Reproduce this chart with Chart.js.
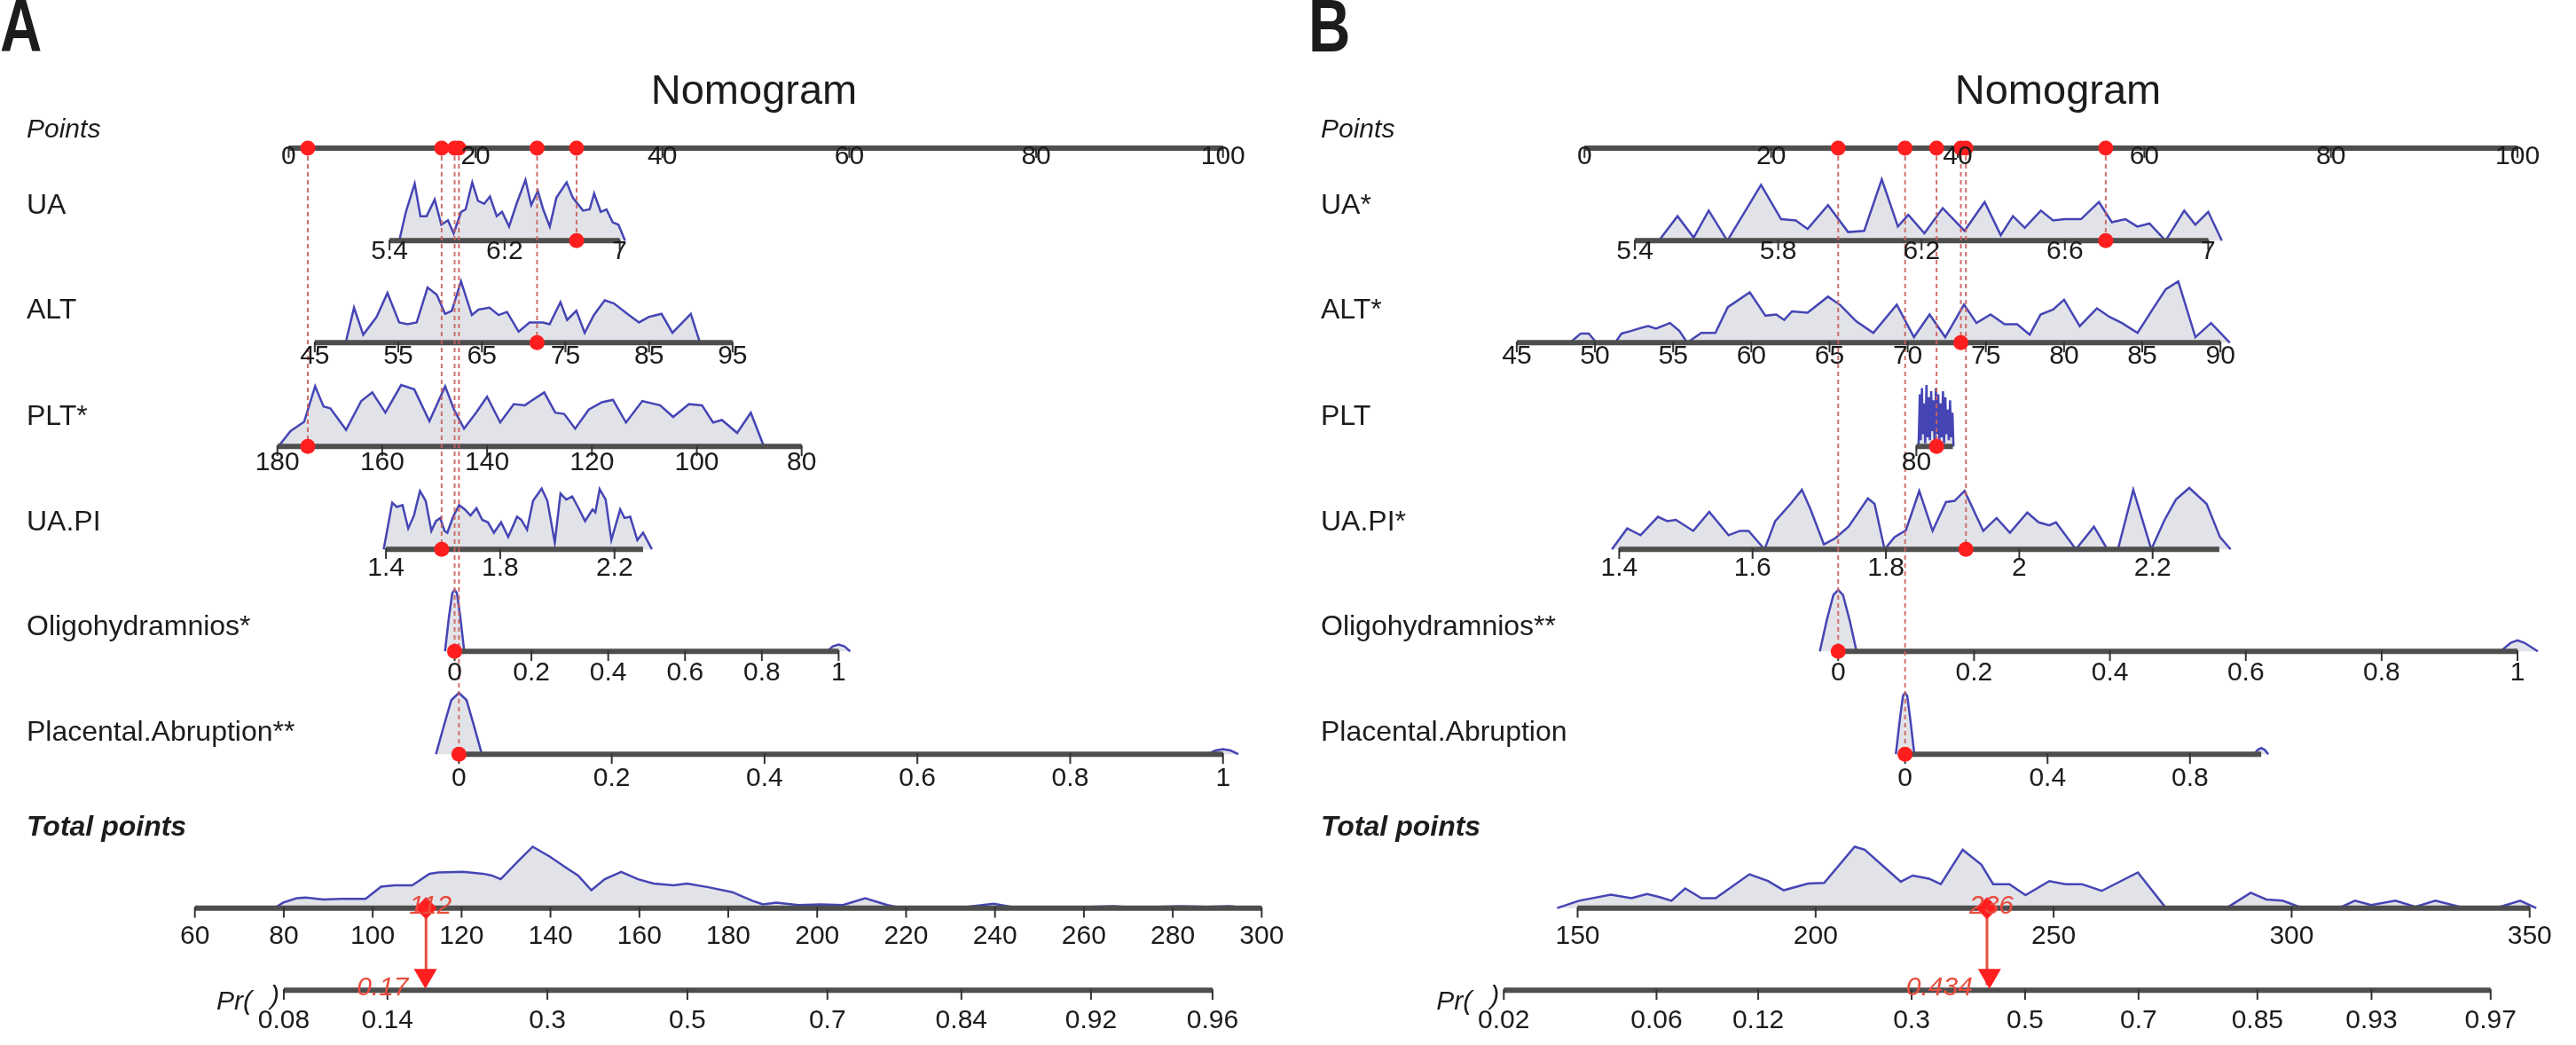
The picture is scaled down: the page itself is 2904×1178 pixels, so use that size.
<!DOCTYPE html>
<html><head><meta charset="utf-8">
<script src="https://cdn.jsdelivr.net/npm/chart.js@4.4.0/dist/chart.umd.min.js"></script>
<style>
html,body{margin:0;padding:0;background:#fff;width:2904px;height:1178px;overflow:hidden}
#wrap{position:relative;width:2904px;height:1178px;background:#fff}
canvas{position:absolute;top:0}
#cA{left:0}#cB{left:1452px}
</style></head><body>
<div id="wrap"><canvas id="cA" width="1452" height="1178"></canvas><canvas id="cB" width="1452" height="1178"></canvas></div>
<script>
// ================= DATA: Panel A =================
const A_letter = 'A';
const A_title = 'Nomogram';
const A_labels = ['UA', 'ALT', 'PLT*', 'UA.PI', 'Oligohydramnios*', 'Placental.Abruption**'];
const A_pointsTicks = [0, 20, 40, 60, 80, 100];
// value -> points anchors
const A_UA_map = [[5.4, 10.79], [7, 35.43]];
const A_ALT_map = [[45, 2.79], [95, 47.51]];
const A_PLT_map = [[180, -1.21], [80, 54.9]];
const A_UAPI_map = [[1.4, 10.41], [2.2, 34.87]];
const A_OLIGO_map = [[0, 17.76], [1, 58.86]];
const A_PLAC_map = [[0, 18.22], [1, 100.0]];
const A_TOTAL_map = [[60, -10.04], [300, 104.14]];
const A_UA_range = [5.4, 7], A_ALT_range = [45, 95], A_PLT_range = [180, 80], A_UAPI_range = [1.4, 2.3];
const A_OLIGO_range = [0, 1], A_PLAC_range = [0, 1], A_TOTAL_range = [60, 300], A_PR_range = [0.08, 0.96];
const A_UA_ticks = [5.4, 6.2, 7];
const A_ALT_ticks = [45, 55, 65, 75, 85, 95];
const A_PLT_ticks = [180, 160, 140, 120, 100, 80];
const A_UAPI_ticks = [1.4, 1.8, 2.2];
const A_OLIGO_ticks = [0, 0.2, 0.4, 0.6, 0.8, 1];
const A_PLAC_ticks = [0, 0.2, 0.4, 0.6, 0.8, 1];
const A_TOTAL_ticks = [60, 80, 100, 120, 140, 160, 180, 200, 220, 240, 260, 280, 300];
const A_PR_ticks = [0.08, 0.14, 0.3, 0.5, 0.7, 0.84, 0.92, 0.96];
const A_PR_model = [0.0269, 170.8]; // logit slope per total point, total at Pr=0.5
const A_patient = [6.70, 71.6, 174.2, 1.595, 0, 0];
const A_totalValue = 112;
const A_prValue = 0.17;
const A_UA_density = [[5.468,0],[5.514,47],[5.575,93],[5.615,40],[5.658,40],[5.714,67],[5.760,26],[5.806,33],[5.846,12],[5.898,47],[5.929,51],[5.975,95],[6.015,65],[6.058,60],[6.098,72],[6.145,40],[6.182,47],[6.231,23],[6.283,60],[6.345,99],[6.385,58],[6.431,81],[6.468,51],[6.514,23],[6.560,70],[6.631,95],[6.674,70],[6.745,49],[6.791,51],[6.822,77],[6.868,47],[6.908,51],[6.951,30],[6.991,26],[7.037,0]];
const A_ALT_density = [[48.7,0],[49.7,57],[50.8,13],[52.4,42],[53.7,81],[55.1,33],[56.1,30],[57.2,33],[58.5,90],[59.6,78],[60.6,47],[61.4,52],[62.5,100],[63.8,45],[64.6,54],[65.9,57],[67.0,45],[68.0,50],[69.4,18],[70.7,33],[72.3,33],[73.1,30],[74.4,66],[75.2,37],[76.3,52],[77.3,16],[78.4,45],[79.7,69],[80.8,64],[82.4,47],[83.8,33],[85.0,42],[86.5,47],[87.8,16],[90.0,47],[91.1,0]];
const A_PLT_density = [[179.8,0],[177.5,25],[174.9,40],[172.8,98],[171.2,65],[169.9,62],[166.9,27],[164.0,74],[161.9,88],[159.4,55],[156.4,100],[153.9,93],[151.0,41],[148.0,98],[146.3,60],[144.4,29],[142.1,55],[140.0,81],[137.5,39],[134.9,69],[132.8,67],[131.6,74],[129.1,88],[127.0,55],[125.3,53],[123.2,29],[120.6,60],[118.1,72],[116.0,76],[113.5,39],[110.4,74],[107.0,67],[104.5,48],[101.5,69],[99.0,67],[96.9,39],[95.2,43],[92.3,22],[89.7,55],[87.2,0]];
const A_UAPI_density = [[1.392,0],[1.422,76],[1.438,69],[1.458,72],[1.478,34],[1.498,55],[1.519,95],[1.539,79],[1.559,30],[1.575,46],[1.590,51],[1.605,30],[1.615,27],[1.635,53],[1.656,72],[1.676,65],[1.696,55],[1.717,67],[1.737,48],[1.757,44],[1.778,27],[1.803,44],[1.828,20],[1.859,53],[1.874,48],[1.894,32],[1.915,79],[1.945,99],[1.965,79],[1.991,11],[2.011,91],[2.031,81],[2.052,86],[2.072,69],[2.097,46],[2.123,65],[2.133,60],[2.148,98],[2.169,81],[2.189,15],[2.220,65],[2.235,51],[2.255,53],[2.280,15],[2.300,27],[2.331,0]];
const A_OLIGO_density = [[-0.025,0],[-0.015,55],[-0.006,95],[0,100],[0.006,95],[0.015,55],[0.025,0],[0.97,0],[0.985,8],[1,11],[1.015,8],[1.03,0]];
const A_PLAC_density = [[-0.03,0],[-0.02,45],[-0.01,88],[0,100],[0.01,88],[0.02,45],[0.03,0],[0.98,0],[0.99,6],[1,8],[1.01,6],[1.02,0]];
const A_TOTAL_density = [[77.9,0],[79.9,9],[82.9,16],[84.9,17],[88.9,14],[92.9,15],[98.4,15],[101.9,35],[104.9,37],[108.9,37],[112.8,56],[114.8,58],[120.3,59],[124.8,56],[126.8,53],[128.8,47],[132.8,77],[136.0,100],[139.8,84],[143.7,65],[146.2,53],[149.2,29],[152.2,47],[155.9,59],[159.7,47],[163.2,40],[167.7,37],[170.7,40],[175.5,34],[180.9,26],[185.4,12],[187.8,6],[190.8,9],[195.8,5],[200.8,6],[205.8,5],[210.8,16],[215.8,5],[217.8,2],[225.8,2],[233.7,2],[239.7,7],[243.7,2],[255.7,1],[266.7,3],[271.7,1],[281.7,3],[287.7,2],[292.7,3],[297.7,0]];

// ================= DATA: Panel B =================
const B_letter = 'B';
const B_title = 'Nomogram';
const B_labels = ['UA*', 'ALT*', 'PLT', 'UA.PI*', 'Oligohydramnios**', 'Placental.Abruption'];
const B_pointsTicks = [0, 20, 40, 60, 80, 100];
const B_UA_map = [[5.4, 5.40], [7, 66.85]];
const B_ALT_map = [[45, -7.26], [90, 68.16]];
const B_PLT_map = [[80, 35.57], [250, 39.48]];
const B_UAPI_map = [[1.4, 3.72], [2.2, 60.89]];
const B_OLIGO_map = [[0, 27.19], [1, 100.0]];
const B_PLAC_map = [[0, 34.36], [1, 72.53]];
const B_TOTAL_map = [[150, -0.74], [350, 101.30]];
const B_UA_range = [5.4, 7], B_ALT_range = [45, 90], B_PLT_range = [80, 250], B_UAPI_range = [1.4, 2.3];
const B_OLIGO_range = [0, 1], B_PLAC_range = [0, 1], B_TOTAL_range = [150, 350], B_PR_range = [0.02, 0.97];
const B_UA_ticks = [5.4, 5.8, 6.2, 6.6, 7];
const B_ALT_ticks = [45, 50, 55, 60, 65, 70, 75, 80, 85, 90];
const B_PLT_ticks = [80];
const B_UAPI_ticks = [1.4, 1.6, 1.8, 2, 2.2];
const B_OLIGO_ticks = [0, 0.2, 0.4, 0.6, 0.8, 1];
const B_PLAC_ticks = [0, 0.4, 0.8];
const B_TOTAL_ticks = [150, 200, 250, 300, 350];
const B_PR_ticks = [0.02, 0.06, 0.12, 0.3, 0.5, 0.7, 0.85, 0.93, 0.97];
const B_PR_model = [0.03554, 244.0];
const B_patient = [6.714, 73.4, 174, 1.92, 0, 0];
const B_totalValue = 236;
const B_prValue = 0.434;
const B_UA_density = [[5.467,0],[5.519,40],[5.564,5],[5.606,49],[5.658,0],[5.752,91],[5.808,35],[5.849,33],[5.882,19],[5.939,58],[5.995,14],[6.040,16],[6.089,100],[6.134,23],[6.163,42],[6.208,12],[6.259,53],[6.320,16],[6.376,63],[6.421,9],[6.455,40],[6.488,21],[6.533,49],[6.567,33],[6.600,35],[6.645,35],[6.695,63],[6.731,30],[6.769,35],[6.802,23],[6.836,28],[6.881,0],[6.933,49],[6.964,26],[7.000,47],[7.038,0]];
const B_ALT_density = [[48.4,0],[49.1,15],[49.6,15],[50.1,0],[51.3,0],[51.7,15],[52.3,19],[52.8,23],[53.4,27],[53.9,23],[54.8,32],[55.4,19],[55.9,0],[56.8,16],[57.7,16],[58.5,58],[59.2,70],[59.9,82],[60.9,44],[61.6,46],[62.1,37],[62.6,51],[63.6,49],[64.9,75],[65.7,61],[66.7,35],[67.8,16],[69.3,62],[70.4,9],[71.4,46],[72.4,9],[73.6,62],[74.4,32],[75.3,46],[76.2,30],[77.0,30],[77.8,13],[78.5,46],[79.3,54],[80.0,70],[81.0,27],[82.1,56],[82.9,42],[83.7,32],[84.7,16],[85.7,56],[86.5,87],[87.3,100],[88.4,9],[89.4,32],[90.6,0]];
const B_PLT_density = [[90,0],[96,85],[100,10],[106,95],[110,20],[116,70],[121,5],[127,100],[132,15],[138,80],[143,10],[149,90],[154,25],[160,75],[165,5],[171,95],[176,20],[182,85],[187,10],[193,70],[198,15],[204,90],[209,5],[215,80],[220,20],[226,60],[231,10],[237,75],[242,15],[248,55],[253,0]];
const B_UAPI_density = [[1.389,0],[1.412,34],[1.432,23],[1.458,53],[1.472,46],[1.485,48],[1.511,30],[1.535,61],[1.564,23],[1.581,30],[1.594,30],[1.618,0],[1.634,46],[1.657,74],[1.674,97],[1.687,65],[1.707,8],[1.724,18],[1.744,37],[1.773,83],[1.783,74],[1.798,0],[1.813,20],[1.830,31],[1.850,95],[1.870,30],[1.890,77],[1.903,79],[1.918,95],[1.946,30],[1.966,51],[1.986,27],[2.012,60],[2.029,44],[2.045,39],[2.055,44],[2.085,0],[2.112,37],[2.132,0],[2.148,0],[2.171,97],[2.198,0],[2.218,48],[2.235,81],[2.255,100],[2.281,74],[2.301,20],[2.317,0]];
const B_OLIGO_density = [[-0.027,0],[-0.017,50],[-0.007,92],[0,100],[0.007,92],[0.017,50],[0.027,0],[0.975,0],[0.99,14],[1,18],[1.01,14],[1.03,0]];
const B_PLAC_density = [[-0.026,0],[-0.015,55],[-0.006,95],[0,100],[0.006,95],[0.015,55],[0.026,0],[0.98,0],[0.99,7],[1,10],[1.01,7],[1.02,0]];
const B_TOTAL_density = [[145.7,0],[150.3,12],[157.0,22],[161.3,16],[164.6,23],[167.2,18],[169.7,12],[172.6,32],[176.0,16],[179.0,16],[186.1,55],[190.0,44],[193.3,29],[198.4,40],[201.8,41],[208.2,100],[210.3,95],[217.9,43],[220.4,53],[223.8,48],[226.3,39],[230.9,95],[234.8,71],[237.3,39],[240.7,39],[244.1,21],[249.1,44],[252.5,39],[255.9,39],[260.1,28],[267.7,58],[273.6,0],[286.3,0],[291.4,25],[294.7,14],[298.1,12],[302.3,0],[309.9,0],[313.3,12],[316.7,5],[321.8,12],[326.0,2],[330.2,12],[335.3,2],[343.8,2],[348.0,12],[351.4,0]];

// ================= LAYOUT / STYLE =================
const LAYOUT = {
  rows: {points: 156, v: [263, 381, 501, 620, 738, 857], total: 1035, pr: 1130},
  densPx: 0.71,
  A: {xMin: -29.475, xMax: 105.532, labelX: 30, letterX: 0, titleX: 850},
  B: {xMin: -30.354, xMax: 104.842, labelX: 37, letterX: 23, titleX: 868}
};
const FONT = '"Liberation Sans", Arial, Helvetica, sans-serif';
const BLUE = '#4545b5', FILL = 'rgba(206,208,216,0.6)', AXIS = '#4e4e4e';
const RED = '#ff1e1e', RED_TXT = '#e94c3d', DOT = 'rgba(204,96,92,0.9)';

function toPts(map, v) { const [[v1, p1], [v2, p2]] = map; return p1 + (v - v1) * (p2 - p1) / (v2 - v1); }
function prToTotal(model, p) { return model[1] + Math.log(p / (1 - p)) / model[0]; }

function makePanel(letter, title, labels, pointsTicks, maps, ranges, ticks, dens, patient, totalMap, totalRange, totalTicks, totalDens, totalValue, prModel, prRange, prTicks, prValue) {
  return {letter, title, pointsTicks,
    vars: labels.map((lab, i) => ({label: lab, map: maps[i], range: ranges[i], ticks: ticks[i], dens: dens[i], value: patient[i]})),
    total: {map: totalMap, range: totalRange, ticks: totalTicks, dens: totalDens, value: totalValue},
    pr: {model: prModel, range: prRange, ticks: prTicks, value: prValue}};
}

const panelA = makePanel(A_letter, A_title, A_labels, A_pointsTicks,
  [A_UA_map, A_ALT_map, A_PLT_map, A_UAPI_map, A_OLIGO_map, A_PLAC_map],
  [A_UA_range, A_ALT_range, A_PLT_range, A_UAPI_range, A_OLIGO_range, A_PLAC_range],
  [A_UA_ticks, A_ALT_ticks, A_PLT_ticks, A_UAPI_ticks, A_OLIGO_ticks, A_PLAC_ticks],
  [A_UA_density, A_ALT_density, A_PLT_density, A_UAPI_density, A_OLIGO_density, A_PLAC_density],
  A_patient, A_TOTAL_map, A_TOTAL_range, A_TOTAL_ticks, A_TOTAL_density, A_totalValue,
  A_PR_model, A_PR_range, A_PR_ticks, A_prValue);
const panelB = makePanel(B_letter, B_title, B_labels, B_pointsTicks,
  [B_UA_map, B_ALT_map, B_PLT_map, B_UAPI_map, B_OLIGO_map, B_PLAC_map],
  [B_UA_range, B_ALT_range, B_PLT_range, B_UAPI_range, B_OLIGO_range, B_PLAC_range],
  [B_UA_ticks, B_ALT_ticks, B_PLT_ticks, B_UAPI_ticks, B_OLIGO_ticks, B_PLAC_ticks],
  [B_UA_density, B_ALT_density, B_PLT_density, B_UAPI_density, B_OLIGO_density, B_PLAC_density],
  B_patient, B_TOTAL_map, B_TOTAL_range, B_TOTAL_ticks, B_TOTAL_density, B_totalValue,
  B_PR_model, B_PR_range, B_PR_ticks, B_prValue);

function makeChart(canvasId, P, L) {
  const R = LAYOUT.rows, DP = LAYOUT.densPx;
  const ds = [];
  const line = (data, o) => Object.assign({data, pointRadius: 0, borderWidth: 2, tension: 0, fill: false, showLine: true}, o);
  const ident = [[0, 0], [100, 100]];
  const prX = p => toPts(P.total.map, prToTotal(P.pr.model, p));
  // densities
  P.vars.forEach((v, i) => {
    const y0 = R.v[i];
    ds.push(line(v.dens.map(([val, d]) => ({x: toPts(v.map, val), y: y0 - d * DP})),
      {borderColor: BLUE, borderWidth: 2.5, backgroundColor: FILL, fill: {value: y0}, order: 10}));
  });
  ds.push(line(P.total.dens.map(([val, d]) => ({x: toPts(P.total.map, val), y: R.total - d * DP})),
    {borderColor: BLUE, borderWidth: 2.5, backgroundColor: FILL, fill: {value: R.total}, order: 10}));
  // axis lines
  const axisDs = (x1, x2, y) => line([{x: x1, y}, {x: x2, y}], {borderColor: AXIS, borderWidth: 6, borderCapStyle: 'butt', order: 8});
  const tickDs = (xs, y) => ({data: xs.map(x => ({x, y: y + 5})), showLine: false, pointStyle: 'line', pointRotation: 90,
    pointRadius: 6, pointBorderColor: '#333', pointBorderWidth: 2, pointBackgroundColor: '#333', order: 7});
  ds.push(axisDs(0, 100, R.points));
  ds.push(tickDs(P.pointsTicks.map(t => toPts(ident, t)), R.points));
  P.vars.forEach((v, i) => {
    ds.push(axisDs(toPts(v.map, v.range[0]), toPts(v.map, v.range[1]), R.v[i]));
    ds.push(tickDs(v.ticks.map(t => toPts(v.map, t)), R.v[i]));
  });
  ds.push(axisDs(toPts(P.total.map, P.total.range[0]), toPts(P.total.map, P.total.range[1]), R.total));
  ds.push(tickDs(P.total.ticks.map(t => toPts(P.total.map, t)), R.total));
  ds.push(axisDs(prX(P.pr.range[0]), prX(P.pr.range[1]), R.pr));
  ds.push(tickDs(P.pr.ticks.map(prX), R.pr));
  // dotted connectors + red points
  const redPts = [];
  P.vars.forEach((v, i) => {
    const px = toPts(v.map, v.value);
    ds.push(line([{x: px, y: R.points}, {x: px, y: R.v[i]}], {borderColor: DOT, borderWidth: 2, borderDash: [5, 4], order: 6}));
    redPts.push({x: px, y: R.points}, {x: px, y: R.v[i]});
  });
  ds.push({data: redPts, showLine: false, pointRadius: 8.5, pointBackgroundColor: RED, pointBorderWidth: 0, pointBorderColor: RED, order: 2});
  // total -> probability arrow
  const xt = toPts(P.total.map, P.total.value);
  ds.push(line([{x: xt, y: R.total}, {x: xt, y: R.pr - 6}], {borderColor: '#e2533f', borderWidth: 3, order: 4}));
  ds.push({data: [{x: xt, y: R.total}], showLine: false, pointStyle: 'rectRot', pointRadius: 12.5, pointBackgroundColor: RED, pointBorderWidth: 0, order: 1});
  ds.push({data: [{x: prX(P.pr.value), y: R.pr - 17}], showLine: false, pointStyle: 'triangle', pointRotation: 180, pointRadius: 15, pointBackgroundColor: RED, pointBorderWidth: 0, order: 1});

  const textPlugin = {
    id: 'nomoText',
    afterDraw(chart) {
      const c = chart.ctx, xs = chart.scales.x;
      const X = v => xs.getPixelForValue(v);
      c.save();
      c.fillStyle = '#1c1c1c';
      // panel letter
      c.save(); c.font = 'bold 84px ' + FONT; c.textAlign = 'left'; c.textBaseline = 'alphabetic';
      c.translate(L.letterX, 58); c.scale(0.78, 1); c.fillText(P.letter, 0, 0); c.restore();
      // title
      c.font = '47px ' + FONT; c.textAlign = 'center'; c.textBaseline = 'alphabetic';
      c.fillText(P.title, L.titleX, 117);
      // row labels
      c.textAlign = 'left';
      c.font = 'italic 30px ' + FONT; c.fillText('Points', L.labelX, R.points - 1);
      c.font = '32px ' + FONT;
      P.vars.forEach((v, i) => c.fillText(v.label, L.labelX, R.v[i] - 22));
      c.font = 'bold italic 32px ' + FONT; c.fillText('Total points', L.labelX, R.total - 93);
      const prStart = X(prX(P.pr.range[0]));
      c.font = 'italic 30px ' + FONT; c.textAlign = 'left';
      c.fillText('Pr(', prStart - 76, R.pr + 8);
      c.fillText(')', prStart - 15, R.pr + 2);
      // tick labels
      c.font = '30px ' + FONT; c.textAlign = 'center';
      const tl = (xv, y, s) => c.fillText(s, X(xv), y + 29);
      P.pointsTicks.forEach(t => tl(toPts(ident, t), R.points, String(t)));
      P.vars.forEach((v, i) => v.ticks.forEach(t => tl(toPts(v.map, t), R.v[i], String(t))));
      P.total.ticks.forEach(t => tl(toPts(P.total.map, t), R.total, String(t)));
      P.pr.ticks.forEach(t => tl(prX(t), R.pr, String(t)));
      // red value labels
      c.fillStyle = RED_TXT; c.font = 'italic 30px ' + FONT;
      c.textAlign = 'center'; c.fillText(String(P.total.value), X(xt) + 5, R.total - 5);
      c.textAlign = 'right'; c.fillText(String(P.pr.value), X(prX(P.pr.value)) - 19, R.pr - 8);
      c.restore();
    }
  };

  return new Chart(document.getElementById(canvasId), {
    type: 'line',
    data: {datasets: ds},
    options: {
      responsive: false, animation: false, devicePixelRatio: 1, events: [],
      layout: {padding: 0},
      plugins: {legend: {display: false}, tooltip: {enabled: false}, title: {display: false}},
      scales: {
        x: {type: 'linear', min: L.xMin, max: L.xMax, display: false},
        y: {type: 'linear', min: 0, max: 1178, reverse: true, display: false}
      }
    },
    plugins: [textPlugin]
  });
}

makeChart('cA', panelA, LAYOUT.A);
makeChart('cB', panelB, LAYOUT.B);
</script>
</body></html>
